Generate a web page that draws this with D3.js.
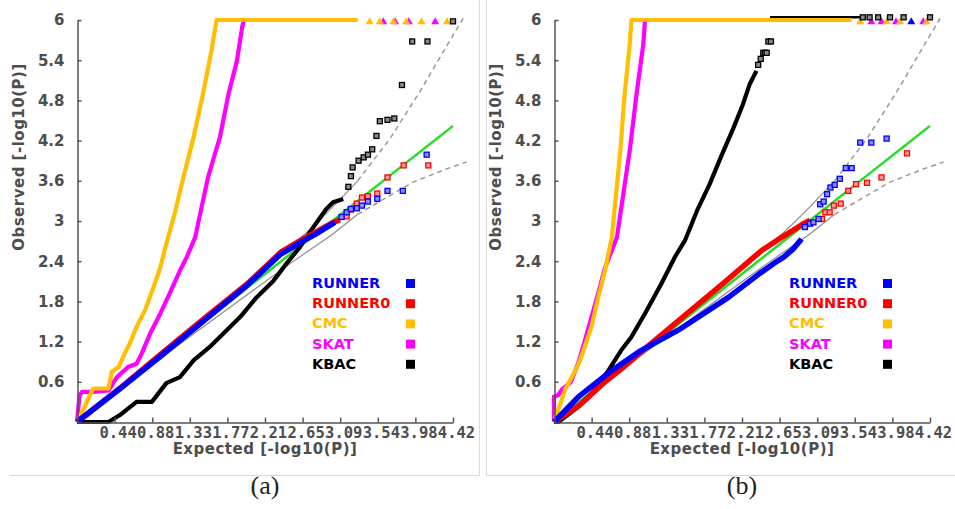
<!DOCTYPE html>
<html>
<head>
<meta charset="utf-8">
<script src="https://cdn.jsdelivr.net/npm/d3@7"></script>
<style>
  body { margin: 0; background: #fff; }
  svg { display: block; }
</style>
</head>
<body>
<div id="container"></div>
<script>
const seriesNames = ["RUNNER", "RUNNER0", "CMC", "SKAT", "KBAC"];
const seriesColors = ["#0000ff", "#ff0000", "#ffbf00", "#ff00ff", "#000000"];
const tailFills = ["#8c8cff", "#ff9a9a", "#ffe080", "#ff90ff", "#8a8a8a"];

const xTickValues = [0.442, 0.884, 1.326, 1.768, 2.21, 2.652, 3.094, 3.536, 3.978, 4.42];
const yTickValues = [0.6, 1.2, 1.8, 2.4, 3, 3.6, 4.2, 4.8, 5.4, 6];

const diagonal = [[0, 0], [4.42, 4.42]];
const bandUpper = [[0, 0], [0.5, 0.52], [1, 1.04], [1.5, 1.57], [2, 2.1], [2.42, 2.5], [2.8, 2.95], [3.0, 3.2], [3.3, 3.6], [3.68, 4.23], [4.03, 4.93], [4.35, 5.62], [4.56, 6.07]];
const bandLower = [[0, 0], [1, 0.97], [2, 1.9], [2.5, 2.36], [3.0, 2.8], [3.3, 3.1], [3.95, 3.58], [4.35, 3.78], [4.58, 3.88]];

// panel (a)
const aRunnerLine = [[0, 0], [0.5, 0.49], [1, 1.0], [1.5, 1.52], [2, 2.04], [2.39, 2.5], [2.6, 2.66], [2.8, 2.8], [3.03, 2.98]];
const aRunnerTail = [[3.11, 3.06], [3.17, 3.13], [3.22, 3.18], [3.29, 3.19], [3.35, 3.23], [3.42, 3.29], [3.53, 3.33], [3.65, 3.45], [3.83, 3.45], [4.11, 3.99]];
const aRunner0Line = [[0, 0], [0.5, 0.5], [1, 1.03], [1.5, 1.55], [2, 2.06], [2.4, 2.54], [2.6, 2.69], [2.8, 2.83], [3.0, 2.97], [3.09, 3.02]];
const aRunner0Tail = [[3.17, 3.07], [3.22, 3.17], [3.29, 3.26], [3.35, 3.35], [3.42, 3.37], [3.53, 3.41], [3.65, 3.65], [3.84, 3.83], [4.13, 3.83]];
const aCmcLine = [[0, 0], [0.11, 0.28], [0.19, 0.5], [0.37, 0.5], [0.41, 0.75], [0.49, 0.82], [0.56, 1.02], [0.62, 1.17], [0.7, 1.42], [0.8, 1.67], [0.9, 2.01], [0.98, 2.31], [1.05, 2.66], [1.15, 3.12], [1.25, 3.65], [1.37, 4.25], [1.48, 4.89], [1.58, 5.54], [1.64, 6], [3.3, 6]];
const aCmcCapped = [3.44, 3.56, 3.72, 3.87, 4.05, 4.35];
const aSkatLine = [[0, 0], [0.03, 0.4], [0.06, 0.45], [0.19, 0.45], [0.37, 0.47], [0.47, 0.67], [0.6, 0.82], [0.7, 0.87], [0.76, 1.02], [0.86, 1.32], [0.98, 1.62], [1.09, 1.92], [1.21, 2.26], [1.29, 2.46], [1.39, 2.76], [1.46, 3.18], [1.54, 3.65], [1.68, 4.25], [1.78, 4.89], [1.88, 5.39], [1.94, 5.88], [1.96, 6], [3.1, 6]];
const aSkatCapped = [3.6, 3.74, 3.9, 4.21];
const aKbacLine = [[0, 0], [0.37, 0], [0.5, 0.1], [0.6, 0.2], [0.7, 0.3], [0.88, 0.3], [1.05, 0.58], [1.21, 0.67], [1.37, 0.92], [1.56, 1.12], [1.76, 1.37], [1.92, 1.57], [2.11, 1.86], [2.31, 2.11], [2.46, 2.36], [2.62, 2.61], [2.78, 2.91], [2.93, 3.18], [3.01, 3.28], [3.13, 3.33]];
const aKbacTail = [[3.19, 3.51], [3.22, 3.67], [3.24, 3.8], [3.31, 3.9], [3.37, 3.95], [3.42, 3.99], [3.47, 4.07], [3.52, 4.27], [3.56, 4.49], [3.65, 4.51], [3.73, 4.53], [3.82, 5.03], [3.94, 5.68], [4.12, 5.68], [4.42, 5.98]];

// panel (b)
const bRunnerLine = [[0, 0], [0.29, 0.38], [0.68, 0.77], [1.0, 1.05], [1.46, 1.37], [2.05, 1.86], [2.4, 2.2], [2.6, 2.38], [2.7, 2.46], [2.81, 2.58], [2.91, 2.73]];
const bRunnerTail = [[2.95, 2.91], [3.01, 2.96], [3.05, 2.98], [3.11, 3.03], [3.13, 3.25], [3.17, 3.29], [3.21, 3.4], [3.25, 3.5], [3.3, 3.54], [3.36, 3.63], [3.43, 3.79], [3.5, 3.79], [3.6, 4.17], [3.73, 4.17], [3.91, 4.23]];
const bRunnerCapped = [4.2];
const bRunner0Line = [[0, 0], [0.3, 0.25], [0.6, 0.6], [0.8, 0.8], [1.0, 1.02], [1.5, 1.55], [2.0, 2.08], [2.44, 2.56], [2.62, 2.71], [2.81, 2.86], [2.93, 2.96], [3.01, 3.01]];
const bRunner0Tail = [[3.15, 3.03], [3.19, 3.13], [3.24, 3.13], [3.29, 3.23], [3.37, 3.26], [3.46, 3.45], [3.55, 3.55], [3.68, 3.57], [3.85, 3.65], [4.15, 4.01]];
const bCmcLine = [[0, 0], [0.13, 0.48], [0.21, 0.67], [0.29, 0.87], [0.36, 1.12], [0.44, 1.42], [0.52, 1.86], [0.6, 2.26], [0.68, 2.76], [0.78, 4.05], [0.83, 4.89], [0.89, 5.64], [0.91, 6], [3.5, 6]];
const bCmcCapped = [3.6, 3.91, 4.07, 4.38];
const bSkatLine = [[0, 0], [0, 0.38], [0.05, 0.4], [0.09, 0.48], [0.2, 0.6], [0.29, 0.9], [0.36, 1.2], [0.52, 1.92], [0.6, 2.3], [0.74, 2.76], [0.89, 4.05], [0.97, 4.89], [1.05, 5.64], [1.07, 6], [3.3, 6]];
const bSkatCapped = [3.73, 3.85, 4.02, 4.34];
const bKbacLine = [[0, 0], [0.05, 0], [0.29, 0.23], [0.48, 0.48], [0.64, 0.77], [0.79, 1.07], [0.91, 1.27], [1.07, 1.62], [1.26, 2.06], [1.42, 2.46], [1.54, 2.71], [1.68, 3.15], [1.83, 3.55], [1.96, 3.95], [2.11, 4.39], [2.22, 4.74], [2.3, 5.04], [2.38, 5.24]];
const bKbacTail = [[2.4, 5.33], [2.43, 5.42], [2.46, 5.51], [2.48, 5.51], [2.5, 5.51], [2.52, 5.68], [2.55, 5.68]];
const bKbacTop = [[2.54, 6.04], [3.6, 6.04]];
const bKbacTopMarks = [3.63, 3.71, 3.81, 3.95, 4.11, 4.42];

const panels = [
  {
    caption: "(a)", ox: 0,
    lines: [aRunnerLine, aRunner0Line, aCmcLine, aSkatLine, aKbacLine],
    tails: [aRunnerTail, aRunner0Tail, [], [], aKbacTail],
    capped: [[], [], aCmcCapped, aSkatCapped, []],
    top: [], topMarks: []
  },
  {
    caption: "(b)", ox: 477,
    lines: [bRunnerLine, bRunner0Line, bCmcLine, bSkatLine, bKbacLine],
    tails: [bRunnerTail, bRunner0Tail, [], [], bKbacTail],
    capped: [bRunnerCapped, [], bCmcCapped, bSkatCapped, []],
    top: bKbacTop, topMarks: bKbacTopMarks
  }
];

const svg = d3.select("#container").append("svg")
  .attr("width", 955).attr("height", 509);

// light panel frames
svg.append("path")
  .attr("d", "M10,475.5H479.5V0M486.5,0V475.5H955")
  .attr("fill", "none").attr("stroke", "#d9d9d9").attr("stroke-width", 1);

const drawOrder = [3, 2, 4, 1, 0];

panels.forEach((p) => {
  const g = svg.append("g");
  const x = d3.scaleLinear().domain([0, 4.42]).range([p.ox + 77, p.ox + 453]);
  const y = d3.scaleLinear().domain([0, 6]).range([422, 20]);
  const line = d3.line().x((d) => x(d[0])).y((d) => y(d[1]));

  // confidence band
  const bandSolid = (b) => b.filter((d) => d[0] <= 3.3);
  const bandDash = (b) => b.filter((d) => d[0] >= 3.3);
  [bandUpper, bandLower].forEach((b) => {
    g.append("path").attr("d", line(bandSolid(b)))
      .attr("fill", "none").attr("stroke", "#8c8c8c").attr("stroke-width", 1.2);
    g.append("path").attr("d", line(bandDash(b)))
      .attr("fill", "none").attr("stroke", "#999").attr("stroke-width", 1.5)
      .attr("stroke-dasharray", "5,4");
  });

  g.append("path").attr("d", line(diagonal))
    .attr("fill", "none").attr("stroke", "#22dd22").attr("stroke-width", 2.5);

  if (p.top.length) {
    g.append("path").attr("d", line(p.top))
      .attr("fill", "none").attr("stroke", "#000").attr("stroke-width", 2.5);
  }

  drawOrder.forEach((i) => {
    const wide = i < 2 ? 5.5 : 4.2;
    g.append("path").attr("d", line(p.lines[i]))
      .attr("fill", "none").attr("stroke", seriesColors[i])
      .attr("stroke-width", wide).attr("stroke-linejoin", "round");
    g.selectAll(null).data(p.tails[i]).enter().append("rect")
      .attr("x", (d) => x(d[0]) - 2.5).attr("y", (d) => y(d[1]) - 2.5)
      .attr("width", 5).attr("height", 5)
      .attr("fill", tailFills[i]).attr("stroke", seriesColors[i]).attr("stroke-width", 1.3);
    g.selectAll(null).data(p.capped[i]).enter().append("path")
      .attr("d", d3.symbol(d3.symbolTriangle, 28))
      .attr("transform", (d) => `translate(${x(d)},${y(6) + 2})`)
      .attr("fill", seriesColors[i]);
  });

  g.selectAll(null).data(p.topMarks).enter().append("rect")
    .attr("x", (d) => x(d) - 2.5).attr("y", y(6.04) - 2.5)
    .attr("width", 5).attr("height", 5)
    .attr("fill", "#8a8a8a").attr("stroke", "#000").attr("stroke-width", 1.3);

  // axes
  const yAxis = g.append("g")
    .attr("transform", `translate(${p.ox + 77.5},0)`)
    .call(d3.axisLeft(y).tickValues(yTickValues).tickSize(-4).tickSizeOuter(0)
      .tickPadding(13).tickFormat(d3.format("~g")));
  const xAxis = g.append("g")
    .attr("transform", `translate(0,422.5)`)
    .call(d3.axisBottom(x).tickValues(xTickValues).tickSize(-5).tickSizeOuter(0)
      .tickPadding(4).tickFormat(d3.format(".2f")));
  [yAxis, xAxis].forEach((a) => {
    a.selectAll(".domain, .tick line").attr("stroke", "#555").attr("stroke-width", 1.5);
    a.selectAll("text").attr("fill", "#4d4d4d").attr("font-weight", "bold");
  });
  yAxis.attr("font-family", "DejaVu Sans").attr("font-size", 15);
  xAxis.attr("font-family", "DejaVu Sans Mono").attr("font-size", 15.5);
  xAxis.selectAll("text").attr("x", 3);

  g.append("text")
    .attr("transform", `translate(${p.ox + 19},157) rotate(-90)`)
    .attr("text-anchor", "middle").attr("dy", "0.35em")
    .attr("font-family", "DejaVu Sans").attr("font-weight", "bold")
    .attr("font-size", 15).attr("letter-spacing", 0.5).attr("fill", "#4d4d4d")
    .text("Observed [-log10(P)]");
  g.append("text")
    .attr("x", p.ox + 265).attr("y", 454)
    .attr("text-anchor", "middle")
    .attr("font-family", "DejaVu Sans").attr("font-weight", "bold")
    .attr("font-size", 15).attr("letter-spacing", 0.5).attr("fill", "#4d4d4d")
    .text("Expected [-log10(P)]");

  // legend
  const leg = g.selectAll(".leg").data(seriesNames).enter().append("g")
    .attr("transform", (d, i) => `translate(${p.ox + 312},${288 + i * 20.2})`);
  leg.append("text")
    .attr("font-family", "DejaVu Sans").attr("font-weight", "bold")
    .attr("font-size", 14.5).attr("fill", (d, i) => seriesColors[i])
    .text((d) => d);
  leg.append("rect")
    .attr("x", 94).attr("y", -9).attr("width", 9).attr("height", 9)
    .attr("fill", (d, i) => seriesColors[i]);

  g.append("text")
    .attr("x", p.ox + 265).attr("y", 494)
    .attr("text-anchor", "middle")
    .attr("font-family", "'Liberation Serif', 'Times New Roman', serif")
    .attr("font-size", 26).attr("fill", "#222")
    .text(p.caption);
});
</script>
</body>
</html>
